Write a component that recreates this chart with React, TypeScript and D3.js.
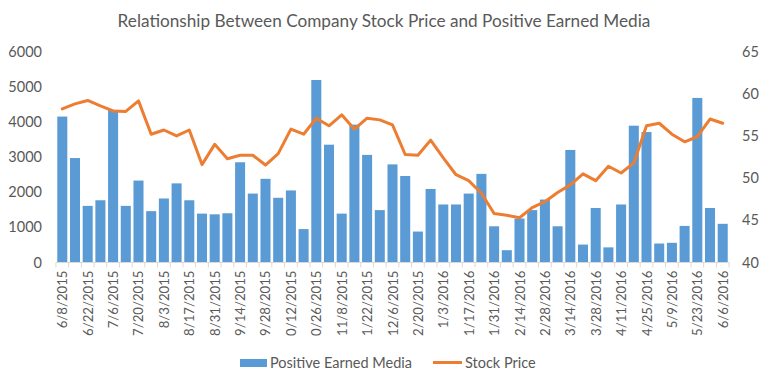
import * as d3 from "d3";
import { useEffect, useRef } from "react";

// weekly values, 6/8/2015 .. 6/6/2016
const earnedMedia = [
  4150, 2970, 1610, 1770, 4340, 1610, 2330, 1460, 1820, 2250,
  1770, 1390, 1370, 1400, 2850, 1960, 2380, 1840, 2050, 950,
  5190, 3350, 1390, 3920, 3060, 1490, 2790, 2460, 880, 2090,
  1650, 1650, 1960, 2520, 1030, 350, 1250, 1490, 1790, 1030,
  3200, 510, 1550, 430, 1650, 3890, 3710, 540, 560, 1040,
  4680, 1550, 1100,
];

const stockPrice = [
  58.2, 58.8, 59.2, 58.55, 57.96, 57.9, 59.15, 55.2, 55.7, 55.0,
  55.7, 51.6, 54.0, 52.3, 52.7, 52.7, 51.55, 52.9, 55.8, 55.2,
  57.1, 56.2, 57.5, 55.8, 57.1, 56.9, 56.3, 52.8, 52.7, 54.5,
  52.4, 50.4, 49.7, 48.2, 45.8, 45.6, 45.3, 46.5, 47.2, 48.3,
  49.2, 50.5, 49.7, 51.4, 50.6, 51.8, 56.2, 56.5, 55.2, 54.3,
  54.9, 57.0, 56.5,
];

// every other week is labelled (the long ones are cut off in the original)
const tickLabels = [
  "6/8/2015", "6/22/2015", "7/6/2015", "7/20/2015", "8/3/2015", "8/17/2015",
  "8/31/2015", "9/14/2015", "9/28/2015", "0/12/2015", "0/26/2015", "11/8/2015",
  "1/22/2015", "12/6/2015", "2/20/2015", "1/3/2016", "1/17/2016", "1/31/2016",
  "2/14/2016", "2/28/2016", "3/14/2016", "3/28/2016", "4/11/2016", "4/25/2016",
  "5/9/2016", "5/23/2016", "6/6/2016",
];

const leftTicks = [0, 1000, 2000, 3000, 4000, 5000, 6000];
const rightTicks = [40, 45, 50, 55, 60, 65];

const W = 768;
const H = 385;
const FONT = "Lato, 'Noto Sans', sans-serif";
const TEXT = "#595959";

export default function App() {
  const ref = useRef<SVGSVGElement>(null);

  useEffect(() => {
    const svg = d3.select(ref.current);
    svg.selectAll("*").remove();

    const left = 56, right = 729, top = 51.5, bottom = 262.5;

    const x = d3.scaleBand<number>()
      .domain(d3.range(earnedMedia.length))
      .range([left, right])
      .paddingInner(0.21)
      .paddingOuter(0.1);
    const yL = d3.scaleLinear().domain([0, 6000]).range([bottom, top]);
    const yR = d3.scaleLinear().domain([40, 65]).range([bottom, top]);

    svg.append("text")
      .attr("x", W / 2).attr("y", 27)
      .attr("text-anchor", "middle")
      .attr("font-family", FONT).attr("font-size", 17.2)
      .attr("fill", TEXT)
      .text("Relationship Between Company Stock Price and Positive Earned Media");

    // bars
    svg.append("g").selectAll("rect")
      .data(earnedMedia)
      .join("rect")
      .attr("x", (_, i) => x(i)!)
      .attr("y", d => yL(d))
      .attr("width", x.bandwidth())
      .attr("height", d => yL(0) - yL(d))
      .attr("fill", "#5B9BD5");

    // line
    const line = d3.line<number>()
      .x((_, i) => x(i)! + x.bandwidth() / 2)
      .y(d => yR(d));
    svg.append("path")
      .datum(stockPrice)
      .attr("d", line)
      .attr("fill", "none")
      .attr("stroke", "#ED7D31")
      .attr("stroke-width", 3)
      .attr("stroke-linejoin", "round")
      .attr("stroke-linecap", "round");

    // left axis
    const gl = svg.append("g")
      .attr("transform", `translate(${left - 14},0)`)
      .call(d3.axisLeft(yL).tickValues(leftTicks).tickFormat(d3.format("d")).tickSize(0).tickPadding(0));
    gl.select(".domain").remove();
    gl.selectAll("text").attr("font-family", FONT).attr("font-size", 14.5).attr("fill", TEXT);

    // right axis
    const gr = svg.append("g")
      .attr("transform", `translate(${right + 13},0)`)
      .call(d3.axisRight(yR).tickValues(rightTicks).tickSize(0).tickPadding(0));
    gr.select(".domain").remove();
    gr.selectAll("text").attr("font-family", FONT).attr("font-size", 14.5).attr("fill", TEXT);

    // x axis line and tick marks between categories
    const gx = svg.append("g");
    gx.append("line")
      .attr("x1", left).attr("x2", right)
      .attr("y1", bottom).attr("y2", bottom)
      .attr("stroke", "#d9d9d9");
    const step = x.step();
    gx.selectAll("line.tick")
      .data(d3.range(earnedMedia.length + 1))
      .join("line")
      .attr("class", "tick")
      .attr("x1", i => x(0)! - step * x.paddingInner() / 2 + i * step)
      .attr("x2", i => x(0)! - step * x.paddingInner() / 2 + i * step)
      .attr("y1", bottom).attr("y2", bottom + 5)
      .attr("stroke", "#d9d9d9");

    gx.selectAll("text")
      .data(tickLabels)
      .join("text")
      .attr("transform", (_, i) => {
        const cx = x(i * 2)! + x.bandwidth() / 2;
        return `translate(${cx + 5},${bottom + 8}) rotate(-90)`;
      })
      .attr("text-anchor", "end")
      .attr("font-family", FONT).attr("font-size", 13.2)
      .attr("fill", TEXT)
      .text(d => d);

    // legend
    const lg = svg.append("g").attr("font-family", FONT).attr("font-size", 14.5).attr("fill", TEXT);
    lg.append("rect").attr("x", 240).attr("y", 359).attr("width", 27).attr("height", 8).attr("fill", "#5B9BD5");
    lg.append("text").attr("x", 270).attr("y", 368).text("Positive Earned Media");
    lg.append("line").attr("x1", 433).attr("x2", 462).attr("y1", 362.5).attr("y2", 362.5)
      .attr("stroke", "#ED7D31").attr("stroke-width", 3);
    lg.append("text").attr("x", 465).attr("y", 368).text("Stock Price");
  }, []);

  return (
    <svg
      ref={ref}
      width={W}
      height={H}
      style={{ position: "absolute", left: 0, top: 0, background: "#fff" }}
    />
  );
}
